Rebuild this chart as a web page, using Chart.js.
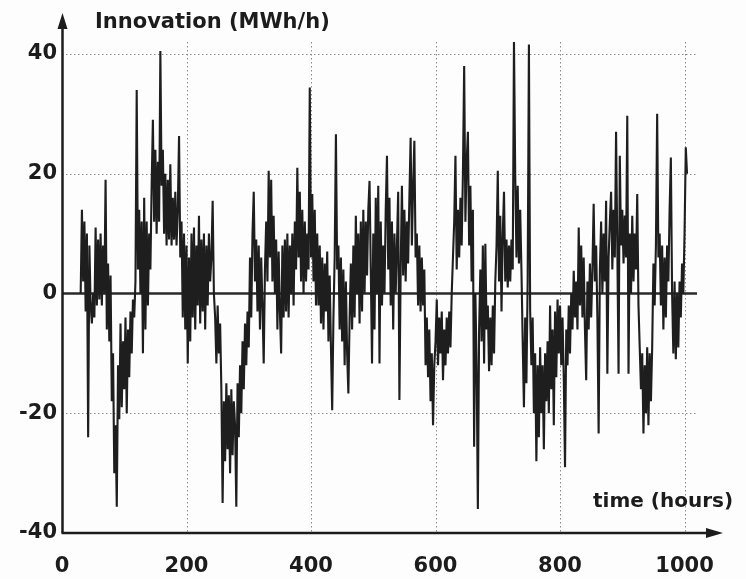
<!DOCTYPE html>
<html><head><meta charset="utf-8">
<script src="https://cdn.jsdelivr.net/npm/chart.js@4/dist/chart.umd.min.js"></script>
<style>html,body{margin:0;padding:0;background:#fdfdfd;} #wrap{width:746px;height:579px;}</style>
</head><body><div id="wrap"><canvas id="c" width="746" height="579"></canvas></div>
<script>
// time of first reading and sampling step (hours)
const startHour = 30;
const stepHours = 2;
// innovation values (MWh/h), 15 readings per 30 hours
const innovation = [
 0, 14, 2, 12, -3, 10, -24, 8, -2, -5, 0, -4, 11, -2, 9,
 -1, 10, -2, 8, 0, 19, -6, 5, -8, 3, -18, -10, -30, -22, -35.6,
 -12, -21, -5, -19, -8, -16, -4, -20, -6, -14, -3, -10, -1, -4, 2,
 34, 4, 14, 0, 12, -10, 16, -6, 12, -2, 10, 4, 18, 29, 12,
 24, 10, 22, 12, 40.5, 18, 24, 10, 20, 8, 19, 9, 21.6, 8, 16,
 9, 17, 8, 14, 26.3, 6, 12, -4, 10, -6, 8, -11.7, 6, -8, 10,
 -4, 11, -6, 8, -2, 13, -5, 9, -3, 10, -6, 8, -2, 10, 2,
 6, 15.5, 0, -4, -11.7, -2, -10, -5, -16, -35, -18, -28, -15, -26, -17,
 -30, -16, -27, -18, -22, -35.6, -15, -24, -12, -20, -8, -16, -5, -12, -3,
 -9, 6, -4, 10, 17, 2, 9, -3, 8, -6, 6, -2, -11.7, 4, 12,
 2, 20.5, 6, 19, 2, 13, 0, 9, -6, 7, -3, -10, 8, -4, 9,
 -3, 10, -4, 8, 0, 10, -2, 12, 4, 21, 6, 17, 2, 14, 0,
 12, 2, 10, 4, 34.4, 6, 16.6, 2, 14, -2, 10, -2, 8, -5, 6,
 -6, 5, -3, 7, -8, 3, -9, -19.5, -4, 6, 26.6, 4, 8, -6, 6,
 -8, 4, -12, 2, -10, -16.7, -4, 5, -6, 8, -4, 13, 0, 10, -5,
 12, -3, 14, 0, 12, 3, 14, 18.8, 4, -11.7, 10, -6, 16, 0, 18,
 -11.7, 12, -2, 8, 0, 14, 23, 4, 16, -2, 12, -6, 10, 0, 8,
 17, -17.8, 4, 18, 3, 14, 2, 12, 5, 16, 26, 8, 18, 25.5, 6,
 10, -2, 8, -3, 6, -2, 4, -12, -4, -14, -6, -18, -10, -22, -12,
 -8, -1, -12, -4, -10, -3, -14.5, -6, -12, -4, -10, -3, -9, 0, 6,
 12, 23, 4, 14, 6, 16, 8, 20, 38, 12, 22, 27, 8, 18, 2,
 14, -25.6, 0, -12, -36, -6, 4, -8, 8, -11.7, 8.3, -6, -2, -13, -4,
 -12, -2, -10, 2, 8, 20.5, 2, 13, -3, 10, 17, 2, 9, 1, 8,
 2, 9, 4, 42, 20, 6, 18, 5, 14, 4, -8, -19, -4, -15, 2,
 41.6, -3, -12, -4, -20, -10, -28, -12, -24, -9, -20, -12, -26, -10, -18,
 -8, -20, -2, -16, -6, -22, -3, -14, -1, -10, -2, -12, -4, -14, -29,
 -6, -12, -2, -10, 0, -6, 3.8, -4, 2, -6, 11, -2, 8, -4, 6,
 -6, -14.5, 2, -6, 5, -4, 4, 15, 2, 8, -4, -23.4, 4, 12, 0,
 10, 2, 15.5, -13.4, 6, 12, 17, 4, 14, 6, 27, 8, -13.4, 23, 8,
 14, 5, 13, 6, 29.7, -13.4, 10, 0, 13, 2, 10, 4, 16.6, -2, -9,
 -16, -10, -23.4, -12, -20, -9, -22, -10, -18, -9, 5, -2, 8, 30, 6,
 10, -2, 8, -6, 6, -4, 8, 2, 14, 22.7, 0, -10, 2, -11, 0,
 -9, 2, -4, 5, 0, 10, 24.4, 20
];
const hours = innovation.map((_, i) => startHour + i * stepHours);
const xTickValues = [0, 200, 400, 600, 800, 1000];
const yTickValues = [-40, -20, 0, 20, 40];
const yAxisTitle = 'Innovation (MWh/h)';
const xAxisTitle = 'time (hours)';

const INK = '#1c1c1c';
const FONT = '"DejaVu Sans", "Liberation Sans", sans-serif';

const decor = {
  id: 'decor',
  beforeDatasetsDraw(chart) {
    const {ctx, chartArea: a, scales: {x, y}} = chart;
    ctx.save();
    ctx.strokeStyle = '#8c8c8c';
    ctx.lineWidth = 1;
    ctx.setLineDash([1.5, 2.5]);
    yTickValues.forEach(v => {
      if (v === 0 || v === -40) return;
      const py = Math.round(y.getPixelForValue(v)) + 0.5;
      ctx.beginPath(); ctx.moveTo(a.left, py); ctx.lineTo(a.right, py); ctx.stroke();
    });
    xTickValues.forEach(v => {
      if (v === 0) return;
      const px = Math.round(x.getPixelForValue(v)) + 0.5;
      ctx.beginPath(); ctx.moveTo(px, a.top); ctx.lineTo(px, a.bottom); ctx.stroke();
    });
    ctx.setLineDash([]);
    ctx.strokeStyle = '#2a2a2a';
    ctx.lineWidth = 2.5;
    const z = y.getPixelForValue(0);
    ctx.beginPath(); ctx.moveTo(a.left, z); ctx.lineTo(a.right, z); ctx.stroke();
    ctx.restore();
  },
  afterDatasetsDraw(chart) {
    const {ctx, chartArea: a, scales: {x, y}} = chart;
    ctx.save();
    ctx.strokeStyle = INK; ctx.fillStyle = INK; ctx.lineWidth = 2.5;
    const ax = x.getPixelForValue(0) + 0.5;
    const ay = y.getPixelForValue(-40);
    const yTip = a.top - 29, xTip = a.right + 26;
    ctx.beginPath(); ctx.moveTo(ax, ay); ctx.lineTo(ax, yTip + 12); ctx.stroke();
    ctx.beginPath(); ctx.moveTo(ax - 1, ay); ctx.lineTo(xTip - 12, ay); ctx.stroke();
    ctx.beginPath(); ctx.moveTo(ax, yTip); ctx.lineTo(ax - 5, yTip + 16); ctx.lineTo(ax + 5, yTip + 16); ctx.closePath(); ctx.fill();
    ctx.beginPath(); ctx.moveTo(xTip, ay); ctx.lineTo(xTip - 17, ay - 5); ctx.lineTo(xTip - 17, ay + 5); ctx.closePath(); ctx.fill();
    ctx.textBaseline = 'alphabetic'; ctx.textAlign = 'left';
    ctx.font = 'bold 21px ' + FONT;
    ctx.fillText(yAxisTitle, 95, 28);
    ctx.font = 'bold 20px ' + FONT;
    ctx.fillText(xAxisTitle, 593, 507);
    ctx.restore();
  }
};

new Chart(document.getElementById('c'), {
  type: 'line',
  data: {
    datasets: [{
      data: hours.map((h, i) => ({x: h, y: innovation[i]})),
      borderColor: '#1e1e1e',
      borderWidth: 2.1,
      pointRadius: 0,
      tension: 0,
      clip: false
    }]
  },
  options: {
    responsive: false,
    animation: false,
    layout: {padding: {left: 0, right: 49, top: 42, bottom: 0}},
    plugins: {legend: {display: false}, tooltip: {enabled: false}},
    scales: {
      x: {
        type: 'linear', min: 0, max: 1020,
        grid: {display: false, drawTicks: false},
        border: {display: false},
        ticks: {font: {family: FONT, size: 21, weight: 'bold'}, color: INK, padding: 21, maxRotation: 0, autoSkip: false,
                callback: v => String(v)},
        afterBuildTicks: s => { s.ticks = xTickValues.map(v => ({value: v})); },
        afterFit: s => { s.height = 46; }
      },
      y: {
        type: 'linear', min: -40, max: 42,
        grid: {display: false, drawTicks: false},
        border: {display: false},
        ticks: {font: {family: FONT, size: 21, weight: 'bold'}, color: INK, padding: 5, autoSkip: false,
                callback: v => String(v)},
        afterBuildTicks: s => { s.ticks = yTickValues.map(v => ({value: v})); },
        afterFit: s => { s.width = 62; }
      }
    }
  },
  plugins: [decor]
});
</script>
</body></html>
